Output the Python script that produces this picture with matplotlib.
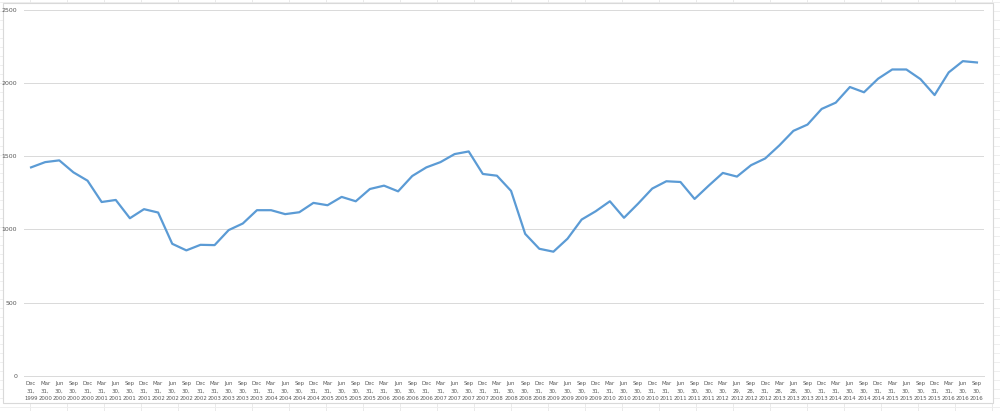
import matplotlib.pyplot as plt
from matplotlib.patches import Rectangle
from matplotlib.lines import Line2D

# quarter end dates as shown on the axis
months = ["Dec", "Mar", "Jun", "Sep"]
days = ["31", "31", "30", "30", "31", "31", "30", "30", "31", "31", "30", "30",
        "31", "31", "30", "30", "31", "31", "30", "30", "31", "31", "30", "30",
        "31", "31", "30", "30", "31", "31", "30", "30", "31", "31", "30", "30",
        "31", "30", "30", "30", "31", "31", "30", "30", "31", "31", "30", "30",
        "30", "30", "29", "28", "31", "28", "28", "30", "31", "31", "30", "30",
        "31", "31", "30", "30", "31", "31", "30", "30"]
years = [1999] + [y for y in range(2000, 2016) for _ in range(4)] + [2016, 2016, 2016]

values = [1425, 1461, 1473, 1391, 1334, 1188, 1202, 1077, 1139, 1116,
          902, 857, 895, 893, 996, 1041, 1132, 1132, 1105, 1118,
          1182, 1166, 1223, 1193, 1277, 1300, 1261, 1366, 1425, 1461,
          1516, 1534, 1380, 1368, 1264, 970, 868, 848, 937, 1068,
          1125, 1193, 1080, 1177, 1280, 1330, 1325, 1209, 1300, 1387,
          1362, 1440, 1486, 1575, 1675, 1718, 1825, 1868, 1975, 1939,
          2032, 2095, 2095, 2029, 1920, 2075, 2152, 2143]

labels = ["{}\n{},\n{}".format(months[i % 4], days[i], years[i]) for i in range(len(values))]

W, H = 1000, 411
fig = plt.figure(figsize=(10, 4.11), dpi=100)

# spreadsheet cells behind the chart
for x in range(30, 1000, 37):
    fig.add_artist(Line2D([x / W, x / W], [0, 1], color="#E6E6E6", lw=0.6, zorder=0))
for y in range(2, 411, 9):
    fig.add_artist(Line2D([0, 1], [1 - y / H, 1 - y / H], color="#EDEDED", lw=0.6, zorder=0))
# chart area
fig.add_artist(Rectangle((3 / W, 1 - 403 / H), 990 / W, 400 / H, facecolor="white",
                         edgecolor="#D9D9D9", lw=0.8, zorder=1))

ax = fig.add_axes([24 / W, 1 - 375.6 / H, 960 / W, 365.3 / H], zorder=2)
ax.patch.set_alpha(0)
x = list(range(len(values)))
ax.plot(x, values, color="#5B9BD5", lw=1.6, solid_joinstyle="round")

ax.set_xlim(-0.5, len(values) - 0.5)
ax.set_ylim(0, 2500)
ax.set_yticks([0, 500, 1000, 1500, 2000, 2500])
ax.set_xticks(x)
ax.set_xticklabels(labels, fontsize=3.9, color="#595959", linespacing=1.55)
ax.tick_params(axis="y", labelsize=4.5, labelcolor="#595959", length=0, pad=5)
ax.tick_params(axis="x", length=0, pad=4)
ax.grid(axis="y", color="#D9D9D9", lw=0.7)
ax.set_axisbelow(True)
for s in ["top", "right", "left"]:
    ax.spines[s].set_visible(False)
ax.spines["bottom"].set_color("#D9D9D9")
ax.spines["bottom"].set_linewidth(0.7)

fig.savefig("out.png", dpi=100)
